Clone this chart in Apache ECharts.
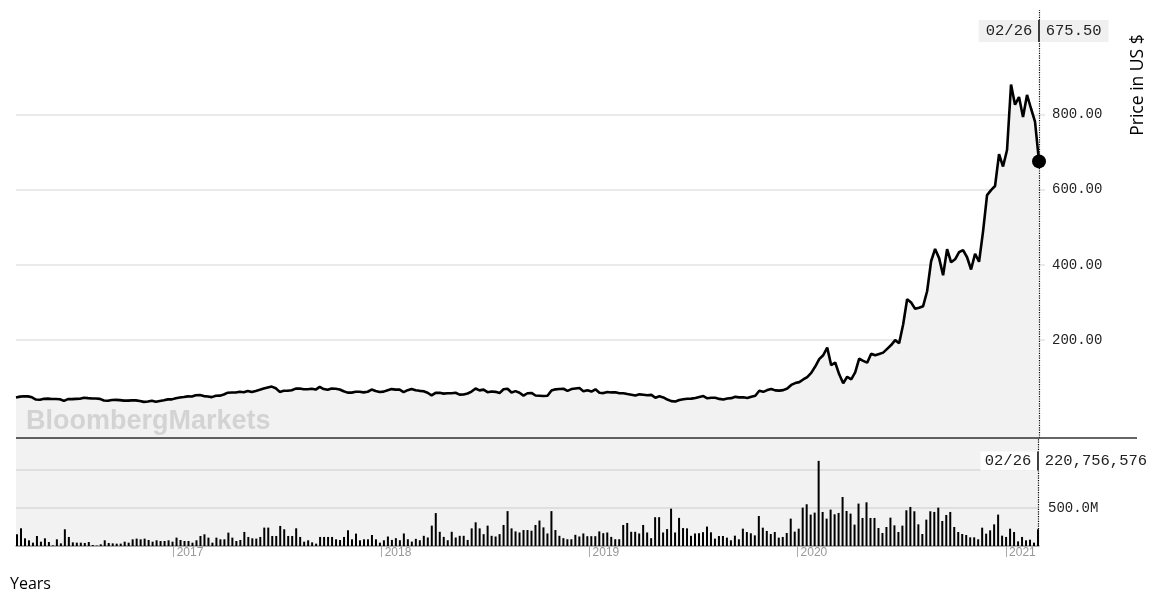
<!DOCTYPE html>
<html><head><meta charset="utf-8">
<script src="https://cdn.jsdelivr.net/npm/echarts@6/dist/echarts.min.js"></script>
<style>html,body{margin:0;padding:0;background:#fff}#c{width:1151px;height:594px}</style>
</head><body><div id="c"></div><script>
// Weekly closes (US $), first week ends 2016-04-01
const firstWeek = [2016, 3, 1];
const price2016 = [47.5,50.0,50.9,50.7,48.2,42.3,41.5,44.1,44.6,43.8,43.8,43.1,38.6,43.3,43.4,44.1,44.5,47.0,46.0,45.1,45.0,44.0,39.6,38.9,41.1,41.4,40.8,39.3,39.3,40.0,40.0,38.2,36.1,37.0,39.3,36.3,38.4,40.5,42.7,42.7];
const price2017 = [45.8,47.6,48.9,50.6,50.3,53.8,54.4,51.4,50.3,48.7,52.3,52.6,55.7,60.5,60.8,61.1,62.8,61.7,65.0,62.1,65.0,68.0,71.5,74.3,76.7,72.3,62.6,65.6,65.7,67.0,71.4,71.6,69.5,69.6,71.1,68.7,76.0,70.2,68.2,71.4,71.1,69.0,64.2,60.6,60.6,63.0,63.1,61.4,63.0,68.7,65.0,62.3];
const price2018 = [63.3,67.2,70.0,68.6,68.8,62.1,67.1,70.2,67.0,65.4,64.3,60.3,53.2,59.9,60.1,58.0,58.8,58.8,60.2,55.4,55.8,58.4,63.5,71.6,66.7,68.6,61.8,63.8,62.7,59.4,69.6,71.1,61.1,64.6,60.3,52.6,59.0,59.8,53.0,52.4,51.8,52.2,66.2,69.3,70.1,70.9,65.2,70.1,71.6,73.1,64.0,66.8];
const price2019 = [63.5,69.5,60.5,59.4,62.4,61.2,61.6,58.9,59.0,56.8,55.1,52.9,56.0,55.0,53.6,54.7,47.0,51.0,47.9,42.2,38.1,37.0,40.9,42.8,44.4,44.7,46.6,49.1,51.6,45.6,46.9,47.0,44.0,42.3,45.1,45.9,49.4,48.1,48.4,46.3,49.6,52.4,65.6,62.7,67.4,70.4,66.6,66.0,67.2,71.7,81.1,86.1];
const price2020 = [88.6,95.6,102.1,113.0,130.1,149.6,160.0,180.2,133.6,140.7,109.3,85.5,102.9,96.0,114.6,150.8,145.0,140.3,163.9,159.8,163.4,167.0,177.1,187.1,200.2,191.9,241.7,308.9,300.1,283.4,286.2,290.5,330.1,410.0,442.7,418.3,372.7,442.2,407.3,415.1,434.0,439.7,420.6,388.0,430.0,408.5,489.6,585.8,599.0,610.0,695.0,661.8,705.7];
const price2021 = [880.0,826.2,846.6,793.5,852.2,816.1,781.3,675.5];
// Weekly volume (millions of shares)
const vol2016 = [154,233,101,75,44,132,57,101,53,8,88,35,220,119,48,44,44,40,53,13,5,22,75,40,35,31,31,57,44,88,97,88,97,79,57,75,66,66,75,57];
const vol2017 = [110,79,66,66,44,75,132,154,110,44,110,88,88,176,110,66,79,185,119,101,97,119,242,242,132,132,264,220,132,132,233,119,57,75,48,31,119,119,119,119,88,79,119,207,88,163,75,88,88,145,88,44];
const vol2018 = [75,125,80,103,76,165,89,58,94,76,134,112,268,433,187,120,76,187,112,134,134,80,232,312,232,156,268,134,125,156,277,459,232,192,178,210,210,201,277,335,245,165,459,210,134,103,89,89,147,125,165,129];
const vol2019 = [129,129,192,169,178,120,89,89,277,303,187,187,165,277,178,103,379,379,178,223,491,178,370,236,232,134,165,168,182,256,180,97,132,132,110,75,136,88,228,184,167,140,395,241,198,158,184,110,119,171,360,189];
const vol2020 = [228,505,549,413,439,1120,448,360,479,417,435,645,461,426,281,558,369,575,369,369,237,171,250,373,272,184,268,470,514,457,285,158,347,457,448,505,329,408,448,250,184,158,145,114,114,88,241,162,206,285,413,136,119];
const vol2021 = [228,184,61,119,75,83,44,220.756576];
const priceTicks = [200, 400, 600, 800];
const volTicks = [500];

const prices = [].concat(price2016, price2017, price2018, price2019, price2020, price2021);
const vols = [].concat(vol2016, vol2017, vol2018, vol2019, vol2020, vol2021);
const dates = [];
for (let i = 0; i < prices.length; i++) {
  const d = new Date(firstWeek[0], firstWeek[1], firstWeek[2]);
  d.setDate(d.getDate() + 7 * i);
  dates.push(d.getTime());
}
const last = prices.length - 1;
const lastDate = dates[last];
const DAY = 86400000;
const ld = new Date(lastDate);
const dateTxt = String(ld.getMonth() + 1).padStart(2, '0') + '/' + String(ld.getDate()).padStart(2, '0');
const priceTxt = prices[last].toFixed(2);
const volTxt = Math.round(vols[last] * 1e6).toLocaleString('en-US');

const mono = '"Liberation Mono", "DejaVu Sans Mono", monospace';
const chart = echarts.init(document.getElementById('c'), null, {renderer: 'canvas'});
chart.setOption({
  animation: false,
  backgroundColor: '#fff',
  textStyle: {fontFamily: '"Liberation Sans", Arial, sans-serif'},
  grid: [
    {left: 16, right: 106, top: 10, height: 428, show: false},
    {left: 16, right: 112, top: 438, height: 108, show: true, backgroundColor: '#f2f2f2', borderWidth: 0}
  ],
  xAxis: [
    {type: 'time', gridIndex: 0, min: dates[0], max: lastDate + 10.5 * DAY, show: false},
    {type: 'time', gridIndex: 1, min: dates[0], max: lastDate, splitNumber: 5,
     minInterval: 360 * DAY,
     axisLine: {lineStyle: {color: '#9a9a9a', width: 1.5}},
     axisTick: {show: true, length: 11, lineStyle: {color: '#aaa', width: 1}},
     axisLabel: {color: '#999', fontSize: 12, align: 'left', padding: [0, 0, 0, 3], margin: 1,
       showMinLabel: false, showMaxLabel: false,
       formatter: function (v) { const d = new Date(v); return (d.getMonth() === 0 && d.getDate() === 1) ? String(d.getFullYear()) : ''; }},
     splitLine: {show: false}}
  ],
  yAxis: [
    {type: 'value', gridIndex: 0, position: 'right', min: -60, max: 1078,
     axisLine: {show: false},
     axisTick: {show: false, customValues: priceTicks},
     axisLabel: {customValues: priceTicks, margin: 7, fontFamily: mono, fontSize: 14, color: '#222',
       formatter: function (v) { return v.toFixed(2); }},
     splitLine: {show: true, lineStyle: {color: '#e3e3e3', width: 1.5}}},
    {type: 'value', gridIndex: 1, position: 'right', min: 0, max: 1421, interval: 500,
     axisLine: {show: false}, axisTick: {show: false},
     axisLabel: {margin: 9, fontFamily: mono, fontSize: 14, color: '#222',
       formatter: function (v) { return volTicks.indexOf(v) >= 0 ? v.toFixed(1) + 'M' : ''; }},
     splitLine: {show: true, lineStyle: {color: '#d9d9d9', width: 1.5}}}
  ],
  series: [
    {type: 'line', xAxisIndex: 0, yAxisIndex: 0, data: dates.map((t, i) => [t, prices[i]]),
     showSymbol: false, symbol: 'none', lineStyle: {color: '#000', width: 2.6}, itemStyle: {color: '#000'},
     areaStyle: {color: '#f2f2f2', opacity: 1, origin: 'start'}, z: 2,
     markLine: {silent: true, symbol: 'none', label: {show: false}, animation: false,
       lineStyle: {color: '#000', type: 'dotted', width: 1.2}, data: [{xAxis: lastDate}]},
     markPoint: {silent: true, animation: false, data: [
       {coord: [lastDate, prices[last]], symbol: 'circle', symbolSize: 14, itemStyle: {color: '#000'}, label: {show: false}},
       {coord: [lastDate, 1022], symbol: 'rect', symbolSize: 1, itemStyle: {color: 'rgba(0,0,0,0)'},
        label: {show: true, position: 'inside', offset: [4.65, 0], backgroundColor: '#f0f0f0',
          formatter: '{d|' + dateTxt + '}{s|}{v|' + priceTxt + '}',
          rich: {
            d: {fontFamily: mono, fontSize: 15.5, color: '#222', padding: [0, 6, 0, 7]},
            s: {width: 1.5, height: 22, backgroundColor: '#000'},
            v: {fontFamily: mono, fontSize: 15.5, color: '#222', padding: [0, 7, 0, 6]}
          }}}
     ]}},
    {type: 'bar', xAxisIndex: 1, yAxisIndex: 1, data: dates.map((t, i) => [t, vols[i]]),
     barWidth: 2, clip: false, itemStyle: {color: '#000'}, z: 2,
     markLine: {silent: true, symbol: 'none', label: {show: false}, animation: false,
       lineStyle: {color: '#000', type: 'dotted', width: 1.2}, data: [{xAxis: lastDate}]},
     markPoint: {silent: true, animation: false, data: [
       {coord: [lastDate, 1118], symbol: 'rect', symbolSize: 1, itemStyle: {color: 'rgba(0,0,0,0)'},
        label: {show: true, position: 'inside', offset: [27.25, 0], backgroundColor: '#fff',
          formatter: '{d|' + dateTxt + '}{s|}{v|' + volTxt + '}',
          rich: {
            d: {fontFamily: mono, fontSize: 15.5, color: '#222', padding: [0, 6, 0, 4.3]},
            s: {width: 1.5, height: 19, backgroundColor: '#000'},
            v: {fontFamily: mono, fontSize: 15.5, color: '#222', padding: [0, 3, 0, 6]}
          }}}
     ]}}
  ],
  graphic: [
    {type: 'text', left: 26, top: 408, z: 10, silent: true,
     style: {text: 'BloombergMarkets', fill: '#d3d3d3', font: 'bold 27px "Liberation Sans", Arial, sans-serif'}},
    {type: 'line', z: 10, silent: true, shape: {x1: 16, y1: 438, x2: 1137, y2: 438}, style: {stroke: '#333', lineWidth: 1.5}},
    {type: 'text', x: 1138, y: 85, rotation: Math.PI / 2, z: 10, silent: true,
     style: {text: 'Price in US $', fill: '#000', font: '17.5px "Open Sans", sans-serif', align: 'center', verticalAlign: 'middle'}},
    {type: 'text', x: 10, y: 584, z: 10, silent: true,
     style: {text: 'Years', fill: '#000', font: '16px "Open Sans", sans-serif', align: 'left', verticalAlign: 'middle'}}
  ]
});
</script></body></html>
